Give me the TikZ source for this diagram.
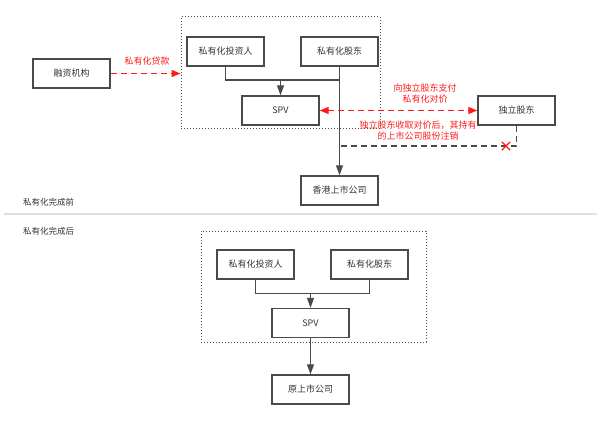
\documentclass[tikz,border=0pt]{standalone}
\usepackage{fontspec}
\newfontfamily\cjk{Noto Sans CJK SC}
\usetikzlibrary{arrows.meta,shapes.misc}
\definecolor{ln}{HTML}{4A4A4A}
\definecolor{tx}{HTML}{333333}
\definecolor{rd}{HTML}{FF1A1A}
\begin{document}
\begin{tikzpicture}[x=1pt,y=-1pt,
  box/.style={draw=ln,line width=1.4pt,minimum width=77pt,minimum height=29pt,inner sep=0pt,text=tx,font=\cjk\fontsize{9}{11}\selectfont},
  dotbox/.style={draw=ln,line width=1pt,dotted,inner sep=0pt},
  conn/.style={draw=ln,line width=1.3pt},
  arr/.style={conn,-{Triangle[length=10pt,width=7pt]}},
  rdash/.style={draw=rd,line width=1.4pt,dash pattern=on 6pt off 4pt},
  lbl/.style={font=\cjk\fontsize{9}{11}\selectfont,align=center,inner sep=0pt},
  sec/.style={font=\cjk\fontsize{8.5}{10}\selectfont,text=tx,anchor=west,inner sep=0pt}]
\useasboundingbox (0,0) rectangle (597,436);
% --- top section ---
\node[dotbox,minimum width=199pt,minimum height=111pt] (box1) at (280.5,72.5) {};
\node[box] (rz) at (71.5,73.5) {融资机构};
\node[box] (tz1) at (225.5,51.5) {私有化投资人};
\node[box] (gd1) at (339.5,51.5) {私有化股东};
\node[box] (spv1) at (280.5,110.5) {SPV};
\node[box] (hk) at (339.5,190.5) {香港上市公司};
\node[box] (dl) at (516.5,110.5) {独立股东};
\coordinate (m1) at (280.5,80);
\coordinate (x1) at (339.5,146);
\draw[conn] (tz1.south) |- (gd1.south |- m1);
\draw[arr] (m1) -- (spv1.north);
\draw[arr] (gd1.south) -- (hk.north);
\draw[conn,dash pattern=on 6pt off 4pt] (dl.south) |- (x1);
\node[cross out,draw=rd,line width=1.2pt,minimum size=7pt,inner sep=0pt] (xm) at (506,146) {};
\draw[rdash,-{Triangle[length=9pt,width=7pt]}] (rz.east) -- (box1.west |- rz.east);
\draw[rdash,{Triangle[length=9pt,width=7pt]}-{Triangle[length=9pt,width=7pt]}] (spv1.east) -- (dl.west);
\node[lbl,text=rd] (l1) at (147,61) {私有化贷款};
\node[lbl,text=rd] (l2) at (425,93.5) {向独立股东支付\\私有化对价};
\node[lbl,text=rd] (l3) at (418,131) {独立股东收取对价后，其持有\\的上市公司股份注销};
\node[sec] (s1) at (23,202) {私有化完成前};
\draw[draw=black!12,line width=1.5pt] (4,214) -- (597,214);
% --- bottom section ---
\node[sec] (s2) at (23,231) {私有化完成后};
\node[dotbox,minimum width=225pt,minimum height=111pt] (box2) at (313.5,286.5) {};
\node[box] (tz2) at (255.5,264.5) {私有化投资人};
\node[box] (gd2) at (369.5,264.5) {私有化股东};
\node[box] (spv2) at (310.5,323) {SPV};
\node[box] (ys) at (310.5,389.5) {原上市公司};
\coordinate (m2) at (310.5,293.5);
\draw[conn] (tz2.south) |- (m2) -| (gd2.south);
\draw[arr] (m2) -- (spv2.north);
\draw[arr] (spv2.south) -- (ys.north);
\end{tikzpicture}
\end{document}
